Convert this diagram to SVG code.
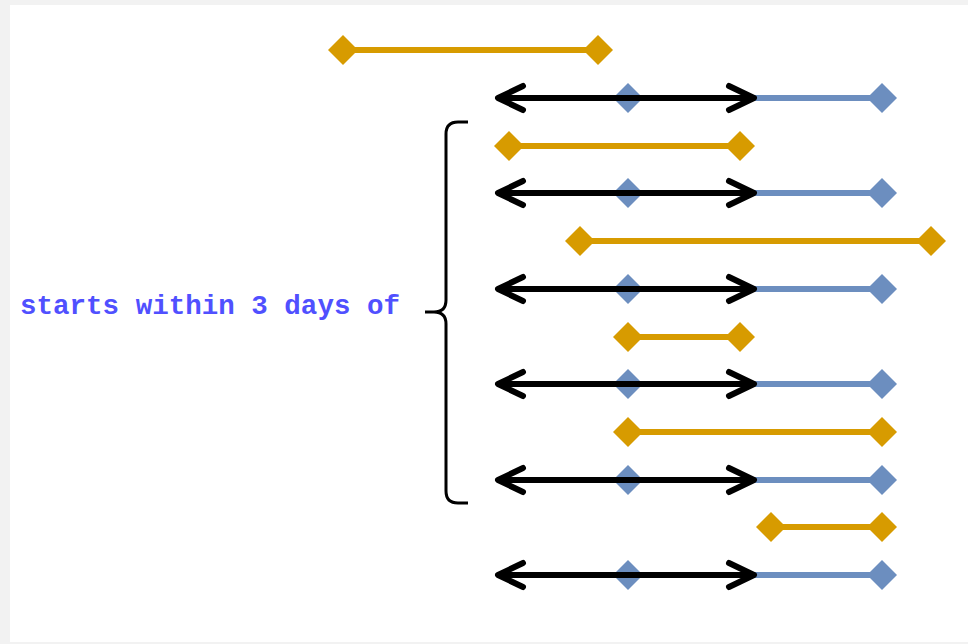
<svg xmlns="http://www.w3.org/2000/svg" width="968" height="644" viewBox="0 0 968 644">
<defs>
<style>
.o{stroke:#d79b00;stroke-width:6;fill:none}
.b{stroke:#6c8ebf;stroke-width:6;fill:none}
.k{stroke:#000;stroke-width:6;fill:none;stroke-linecap:round;stroke-linejoin:round}
.od{fill:#d79b00}
.bd{fill:#6c8ebf}
.lbl{font-family:"Liberation Mono","Courier New",monospace;font-weight:bold;font-size:27.5px;fill:#5050ff}
</style>
<path id="dm" d="M0,-15 L15,0 L0,15 L-15,0 Z"/>
<g id="brow">
<line class="b" x1="752" y1="0" x2="882" y2="0"/>
<use href="#dm" class="bd" x="628" y="0"/>
<use href="#dm" class="bd" x="882" y="0"/>
<line class="k" x1="500" y1="0" x2="752" y2="0"/>
<polyline class="k" points="523,-12 498,0 523,12"/>
<polyline class="k" points="729,-12 754,0 729,12"/>
</g>
</defs>
<rect width="968" height="644" fill="#f2f2f2"/>
<rect x="10" y="5" width="958" height="637" fill="#fff"/>
<g id="connectors">
<use href="#brow" y="98"/>
<use href="#brow" y="193"/>
<use href="#brow" y="289"/>
<use href="#brow" y="384"/>
<use href="#brow" y="480"/>
<use href="#brow" y="575"/>
</g>
<g id="o1"><line class="o" x1="343" y1="50" x2="598" y2="50"/><use href="#dm" class="od" x="343" y="50"/><use href="#dm" class="od" x="598" y="50"/></g>
<g id="o2"><line class="o" x1="509" y1="146" x2="740" y2="146"/><use href="#dm" class="od" x="509" y="146"/><use href="#dm" class="od" x="740" y="146"/></g>
<g id="o3"><line class="o" x1="580" y1="241" x2="931" y2="241"/><use href="#dm" class="od" x="580" y="241"/><use href="#dm" class="od" x="931" y="241"/></g>
<g id="o4"><line class="o" x1="628" y1="337" x2="740" y2="337"/><use href="#dm" class="od" x="628" y="337"/><use href="#dm" class="od" x="740" y="337"/></g>
<g id="o5"><line class="o" x1="628" y1="432" x2="882" y2="432"/><use href="#dm" class="od" x="628" y="432"/><use href="#dm" class="od" x="882" y="432"/></g>
<g id="o6"><line class="o" x1="771" y1="527" x2="882" y2="527"/><use href="#dm" class="od" x="771" y="527"/><use href="#dm" class="od" x="882" y="527"/></g>
<g id="brace">
<path d="M468,122 L458,122 Q446,122 446,134 L446,300 Q446,312 434,312 L425,312 M434,312 Q446,312 446,324 L446,491 Q446,503 458,503 L468,503" fill="none" stroke="#000" stroke-width="3"/>
</g>
<g id="label"><text class="lbl" x="20" y="314" textLength="380">starts within 3 days of</text></g>
</svg>
